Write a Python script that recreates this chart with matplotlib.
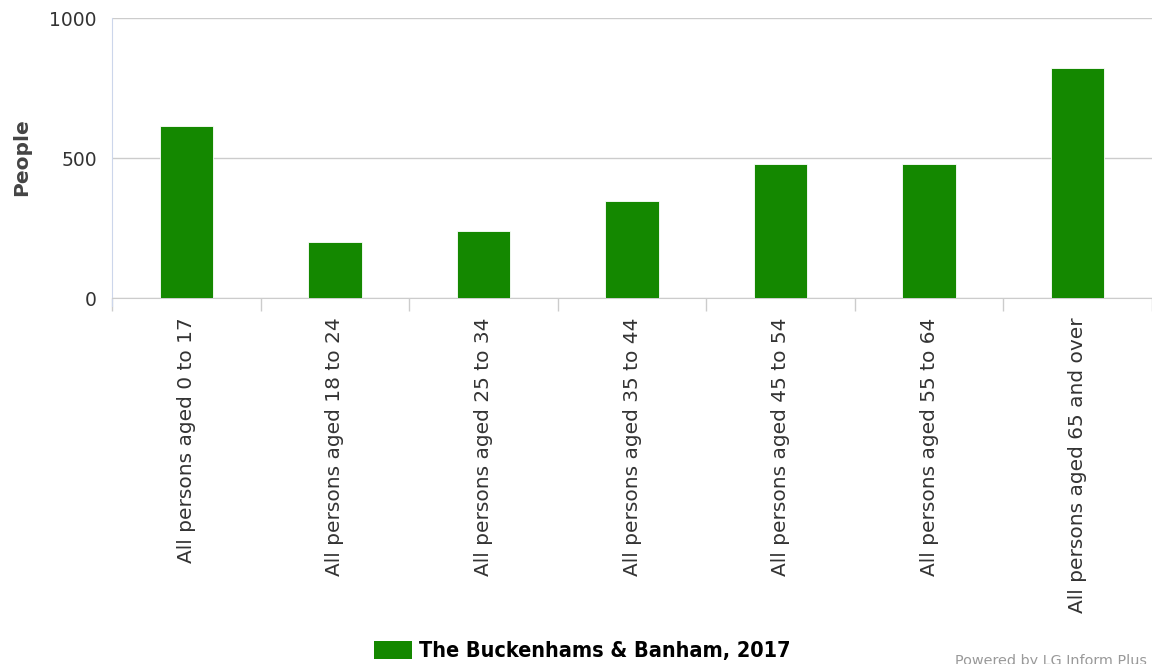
import matplotlib.pyplot as plt
from matplotlib.patches import Patch

categories = ['All persons aged 0 to 17', 'All persons aged 18 to 24',
              'All persons aged 25 to 34', 'All persons aged 35 to 44',
              'All persons aged 45 to 54', 'All persons aged 55 to 64',
              'All persons aged 65 and over']
people = [616, 199, 240, 346, 478, 478, 821]
series_name = 'The Buckenhams & Banham, 2017'
bar_color = '#148800'

fig = plt.figure(figsize=(11.52, 6.64), dpi=100)
ax = fig.add_axes([112 / 1152, 1 - 298 / 664, 1 - 112 / 1152, 280 / 664])

x = list(range(len(categories)))
ax.bar(x, people, width=0.36, color=bar_color, edgecolor='white', linewidth=0.6, zorder=3)

ax.set_xlim(-0.5, len(categories) - 0.5)
ax.set_ylim(0, 1000)
ax.set_yticks([0, 500, 1000])
ax.grid(axis='y', color='#cccccc', linewidth=1, zorder=0)

ax.set_xticks(x)
ax.set_xticklabels(categories, rotation=90, fontsize=14.5, color='#333333', va='top')
ax.tick_params(axis='x', which='major', length=0, pad=14)
ax.set_xticks([i - 0.5 for i in range(len(categories) + 1)], minor=True)
ax.tick_params(axis='x', which='minor', length=9, color='#cccccc', width=1)
ax.tick_params(axis='y', length=0, pad=11, labelsize=13.5, labelcolor='#333333')

for s in ['top', 'right']:
    ax.spines[s].set_visible(False)
ax.spines['left'].set_color('#ccd6eb')
ax.spines['left'].set_bounds(-30, 1000)
ax.spines['left'].set_clip_on(False)
ax.spines['bottom'].set_color('#cccccc')

ax.set_ylabel('People', fontsize=14.5, fontweight='bold', color='#444444')
ax.yaxis.label.set_va('center')
ax.yaxis.set_label_coords((22 - 112) / 1040, (298 - 157) / 280)

fig.legend(handles=[Patch(facecolor=bar_color, label=series_name)],
           loc='center', bbox_to_anchor=(582 / 1152, 1 - 651 / 664),
           frameon=False, handlelength=1.77, handleheight=0.93, handletextpad=0.3,
           borderpad=0, borderaxespad=0,
           prop={'family': 'DejaVu Sans', 'weight': 'bold', 'stretch': 'condensed', 'size': 15.5})

fig.text(955 / 1152, 1 - 654 / 664, 'Powered by LG Inform Plus', ha='left', va='top',
         fontsize=10.4, color='#999999')

fig.savefig('out.png', dpi=100)
